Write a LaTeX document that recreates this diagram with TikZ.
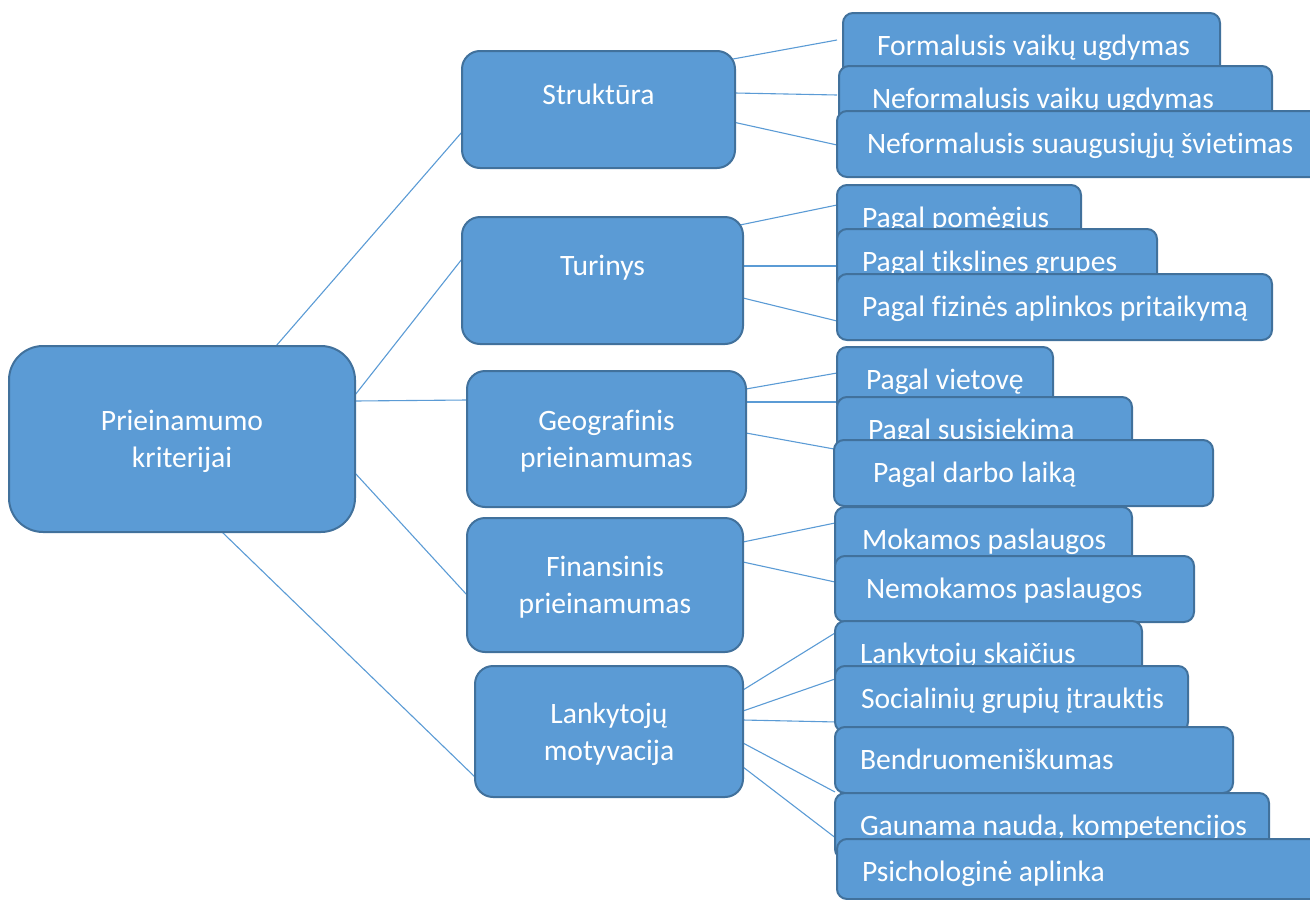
\documentclass[tikz,border=0pt]{standalone}
\usepackage{fontspec}
\setmainfont{Carlito}[Ligatures=NoCommon]
\pgfdeclarelayer{background}
\pgfsetlayers{background,main}
\definecolor{boxfill}{HTML}{5B9BD5}
\definecolor{boxline}{HTML}{41719C}
\definecolor{linkc}{HTML}{5B9BD5}
\newcommand\leafnode[6]{\node[leaf, minimum width=#4pt, minimum height=66pt] (#1) at (#2,#3) {\makebox[#4pt][l]{\hspace{#5pt}#6}};}
\begin{document}
\begin{tikzpicture}[x=1pt,y=-1pt,
 box/.style={draw=boxline, fill=boxfill, line width=2pt, text=white, inner sep=0pt, outer sep=0pt, anchor=north west, font=\fontsize{29.6pt}{37pt}\selectfont},
 hub/.style={box, rounded corners=18pt, align=center},
 single/.style={text height=20pt, text depth=31pt},
 double/.style={text depth=0pt},
 rootbox/.style={box, rounded corners=34pt, align=center, double},
 leaf/.style={box, rounded corners=10pt, text height=22pt, text depth=4pt},
 link/.style={draw=linkc, line width=1.1pt}]
\useasboundingbox (0,0) rectangle (1310,900);
\clip (0,0) rectangle (1310,900);

% root and hubs
\node[rootbox, minimum width=346pt, minimum height=186pt] (root) at (9,346) {Prieinamumo\\kriterijai};
\node[hub, single, minimum width=273pt, minimum height=117pt] (struk) at (462,51) {Struktūra};
\node[hub, single, minimum width=281pt, minimum height=127pt] (turin) at (462,217) {Turinys};
\node[hub, double, minimum width=279pt, minimum height=136pt] (geo) at (467,371) {Geografinis\\prieinamumas};
\node[hub, double, minimum width=276pt, minimum height=134pt] (fin) at (467,518) {Finansinis\\prieinamumas};
\node[hub, double, minimum width=268pt, minimum height=131pt] (lank) at (475,666) {Lankytojų\\motyvacija};

% leaves (later ones overlap earlier ones)
\leafnode{l1}{843}{13}{377}{34}{Formalusis vaikų ugdymas}
\leafnode{l2}{839}{66}{433}{33}{Neformalusis vaikų ugdymas}
\leafnode{l3}{837}{111}{500}{30}{Neformalusis suaugusiųjų švietimas}
\leafnode{l4}{837}{185}{244}{25}{Pagal pomėgius}
\leafnode{l5}{837}{229}{320}{25}{Pagal tikslines grupes}
\leafnode{l6}{837}{274}{435}{25}{Pagal fizinės aplinkos pritaikymą}
\leafnode{l7}{837}{347}{216}{29}{Pagal vietovę}
\leafnode{l8}{837}{397}{295}{31}{Pagal susisiekimą}
\leafnode{l9}{834}{440}{379}{39}{Pagal darbo laiką}
\leafnode{l10}{835}{507}{297}{27}{Mokamos paslaugos}
\leafnode{l11}{835}{556}{359}{31}{Nemokamos paslaugos}
\leafnode{l12}{835}{621}{307}{25}{Lankytojų skaičius}
\leafnode{l13}{835}{666}{353}{26}{Socialinių grupių įtrauktis}
\leafnode{l14}{835}{727}{398}{25}{Bendruomeniškumas}
\leafnode{l15}{835}{793}{434}{25}{Gaunama nauda, kompetencijos}
\node[leaf, minimum width=500pt, minimum height=60pt, text height=26pt, text depth=2pt] (l16) at (837,839) {\makebox[500pt][l]{\hspace{25pt}Psichologinė aplinka}};

\begin{pgfonlayer}{background}
\draw[link] ([shift={(267,0)}]root.north west) -- ([shift={(0,81)}]struk.north west);
\draw[link] ([shift={(346,49)}]root.north west) -- ([shift={(0,42)}]turin.north west);
\draw[link] ([shift={(346,55)}]root.north west) -- ([shift={(0,29)}]geo.north west);
\draw[link] ([shift={(346,127)}]root.north west) -- ([shift={(0,77)}]fin.north west);
\draw[link] ([shift={(213,186)}]root.north west) -- ([shift={(0,111)}]lank.north west);

\draw[link] ([shift={(271,8)}]struk.north west) -- ([shift={(-6,27)}]l1.north west);
\draw[link] ([shift={(273,42)}]struk.north west) -- ([shift={(-2,29)}]l2.north west);
\draw[link] ([shift={(271,71)}]struk.north west) -- ([shift={(0,34)}]l3.north west);

\draw[link] ([shift={(278,8)}]turin.north west) -- ([shift={(0,20)}]l4.north west);
\draw[link] ([shift={(281,49)}]turin.north west) -- ([shift={(0,37)}]l5.north west);
\draw[link] ([shift={(281,81)}]turin.north west) -- ([shift={(0,47)}]l6.north west);

\draw[link] ([shift={(279,18)}]geo.north west) -- ([shift={(0,26)}]l7.north west);
\draw[link] ([shift={(279,31)}]geo.north west) -- ([shift={(0,5)}]l8.north west);
\draw[link] ([shift={(279,62)}]geo.north west) -- ([shift={(0,9)}]l9.north west);

\draw[link] ([shift={(276,24)}]fin.north west) -- ([shift={(0,16)}]l10.north west);
\draw[link] ([shift={(276,44)}]fin.north west) -- ([shift={(0,26)}]l11.north west);

\draw[link] ([shift={(268,24)}]lank.north west) -- ([shift={(0,12)}]l12.north west);
\draw[link] ([shift={(268,45)}]lank.north west) -- ([shift={(0,13)}]l13.north west);
\draw[link] ([shift={(268,54)}]lank.north west) -- ([shift={(2,-5)}]l14.north west);
\draw[link] ([shift={(268,77)}]lank.north west) -- ([shift={(0,-1)}]l15.north west);
\draw[link] ([shift={(268,101)}]lank.north west) -- ([shift={(0,0)}]l16.north west);
\end{pgfonlayer}
\end{tikzpicture}
\end{document}
